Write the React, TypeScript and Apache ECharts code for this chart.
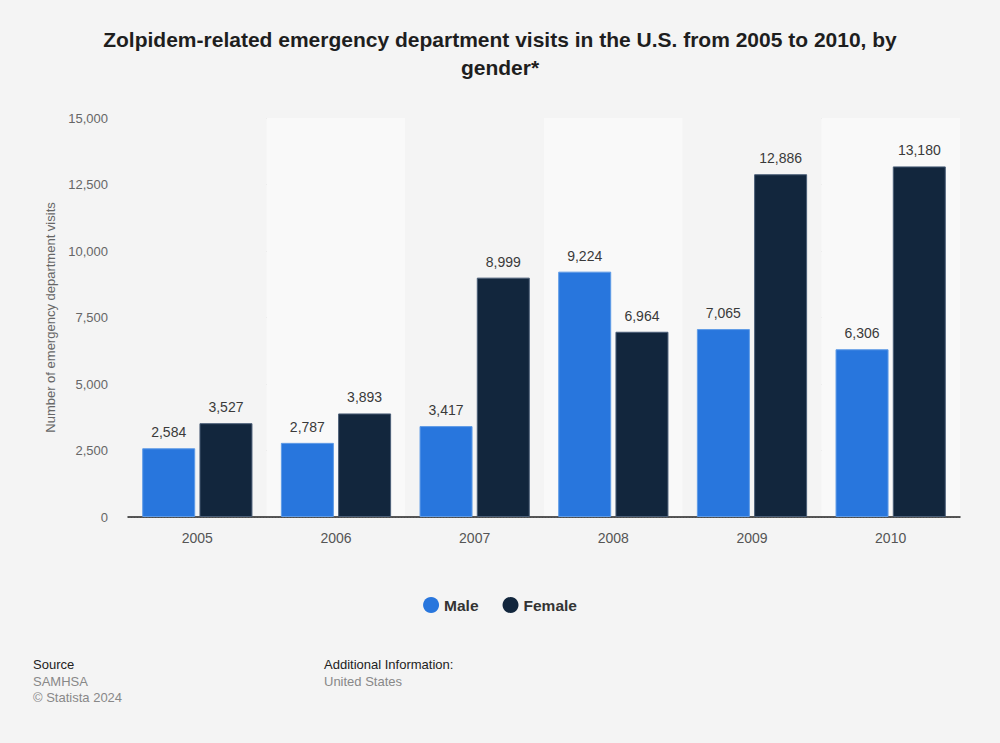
import React, { useEffect, useRef } from "react";
import * as echarts from "echarts";

const categories = ["2005", "2006", "2007", "2008", "2009", "2010"];
const maleValues = [2584, 2787, 3417, 9224, 7065, 6306];
const femaleValues = [3527, 3893, 8999, 6964, 12886, 13180];
const yTicks = { min: 0, max: 15000, interval: 2500 };

const FONT = 'Arial, "Liberation Sans", Helvetica, sans-serif';

const fmt = (v: number) => v.toLocaleString("en-US");

export default function App() {
  const ref = useRef<HTMLDivElement>(null);
  useEffect(() => {
    if (!ref.current) return;
    const chart = echarts.init(ref.current, null, { renderer: "svg" });
    const labelCfg = {
      show: true,
      position: "top",
      distance: 9,
      color: "#3a3a3a",
      fontSize: 14,
      fontFamily: FONT,
      formatter: (p: any) => fmt(p.value),
    };
    chart.setOption({
      animation: false,
      backgroundColor: "#f4f4f4",
      textStyle: { fontFamily: FONT },
      title: {
        text: "Zolpidem-related emergency department visits in the U.S. from 2005 to 2010, by\ngender*",
        left: "center",
        top: 20,
        textStyle: {
          fontFamily: FONT,
          fontSize: 21,
          fontWeight: "bold",
          color: "#1e1e1e",
          lineHeight: 28,
        },
      },
      legend: {
        top: 592,
        left: "center",
        icon: "circle",
        itemWidth: 16,
        itemHeight: 16,
        itemGap: 24,
        itemStyle: { borderWidth: 0 },
        textStyle: { fontFamily: FONT, fontSize: 15.5, fontWeight: "bold", color: "#333" },
        data: ["Male", "Female"],
      },
      grid: { left: 128, right: 40, top: 118, bottom: 226 },
      xAxis: {
        type: "category",
        data: categories,
        axisLine: { lineStyle: { color: "#222", width: 1.5 } },
        axisTick: { show: false },
        axisLabel: { color: "#555", fontSize: 14, margin: 14, fontFamily: FONT },
        splitArea: { show: true, areaStyle: { color: ["#f4f4f4", "#f9f9f9"] } },
      },
      yAxis: {
        type: "value",
        min: yTicks.min,
        max: yTicks.max,
        interval: yTicks.interval,
        name: "Number of emergency department visits",
        nameLocation: "middle",
        nameGap: 69,
        nameTextStyle: { color: "#666", fontSize: 13, fontFamily: FONT },
        axisLine: { show: false },
        axisTick: { show: false },
        axisLabel: { color: "#666", fontSize: 13, margin: 20, formatter: (v: number) => fmt(v), fontFamily: FONT },
        splitLine: { lineStyle: { color: "#c8c8c8", type: [1, 2] } },
      },
      series: [
        {
          name: "Male",
          type: "bar",
          data: maleValues,
          barWidth: 53,
          barGap: "8%",
          itemStyle: { color: "#2876dd", borderColor: "#5f9be6", borderWidth: 1 },
          label: labelCfg,
        },
        {
          name: "Female",
          type: "bar",
          data: femaleValues,
          barWidth: 53,
          itemStyle: { color: "#12263d", borderColor: "#4b5f78", borderWidth: 1 },
          label: labelCfg,
        },
      ],
      graphic: [
        { type: "text", left: 33, top: 658, style: { text: "Source", fontSize: 13, fill: "#222", fontFamily: FONT } },
        { type: "text", left: 33, top: 675, style: { text: "SAMHSA", fontSize: 13, fill: "#888", fontFamily: FONT } },
        { type: "text", left: 33, top: 691, style: { text: "© Statista 2024", fontSize: 13, fill: "#888", fontFamily: FONT } },
        { type: "text", left: 324, top: 658, style: { text: "Additional Information:", fontSize: 13, fill: "#222", fontFamily: FONT } },
        { type: "text", left: 324, top: 675, style: { text: "United States", fontSize: 13, fill: "#888", fontFamily: FONT } },
      ],
    });
    return () => chart.dispose();
  }, []);
  return <div ref={ref} style={{ position: "fixed", left: 0, top: 0, width: 1000, height: 743 }} />;
}
